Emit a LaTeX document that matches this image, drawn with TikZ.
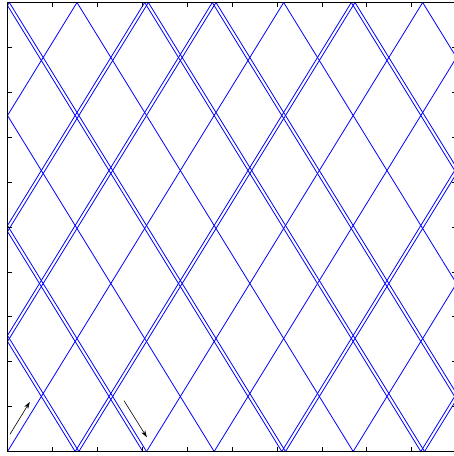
\documentclass[tikz,border=0pt]{standalone}
\usetikzlibrary{arrows.meta}
\newcommand{\boxside}{449}
\newcommand{\slopeval}{1.62584}

\begin{document}
\begin{tikzpicture}[
    x = 1pt,
    y = 1pt,
    ray/.style = {blue, line width = 0.8pt},
    frame/.style = {black, line width = 0.7pt},
    tickmark/.style = {black, line width = 0.6pt},
    hint/.style = {-{Stealth[length = 7pt, width = 4.4pt]}, black, line width = 0.6pt},
  ]
  \useasboundingbox (-7.5, -4.5) rectangle (446.5, 451.5);
  \clip (-7.5, -4.5) rectangle (446.5, 451.5);

  \pgfmathsetmacro{\uend}{20*\boxside/\slopeval}
  \pgfmathsetmacro{\vend}{20*\boxside}

  % straight path in the unfolded plane, folded back into the box cell by cell
  \begin{scope}
    \clip (0, 0) rectangle (\boxside, \boxside);
    \foreach \a in {0,...,12}{
      \foreach \b in {0,...,19}{
        \pgfmathsetmacro{\sa}{1 - 2*mod(\a, 2)}
        \pgfmathsetmacro{\sb}{1 - 2*mod(\b, 2)}
        \pgfmathsetmacro{\dx}{-1*(\sa)*(\a + mod(\a, 2))*\boxside}
        \pgfmathsetmacro{\dy}{-1*(\sb)*(\b + mod(\b, 2))*\boxside}
        \begin{scope}[shift = {(\dx, \dy)}, xscale = \sa, yscale = \sb]
          \draw[ray] (0, 0) -- (\uend, \vend);
        \end{scope}
      }
    }
  \end{scope}

  \draw[frame] (0, 0) rectangle (\boxside, \boxside);
  \foreach \k in {1,...,9}{
    \draw[tickmark] ({\k*\boxside/10}, 0) -- ++(0, 4.5);
    \draw[tickmark] ({\k*\boxside/10}, \boxside) -- ++(0, -4.5);
    \draw[tickmark] (0, {\k*\boxside/10}) -- ++(4.5, 0);
    \draw[tickmark] (\boxside, {\k*\boxside/10}) -- ++(-4.5, 0);
  }

  \coordinate (in tail) at (2.5, 17.2);
  \coordinate (in head) at (22.3, 49.6);
  \coordinate (out tail) at (116.5, 50.8);
  \coordinate (out head) at (139.4, 14.2);

  \draw[hint] (in tail) -- (in head);
  \draw[hint] (out tail) -- (out head);
\end{tikzpicture}
\end{document}
